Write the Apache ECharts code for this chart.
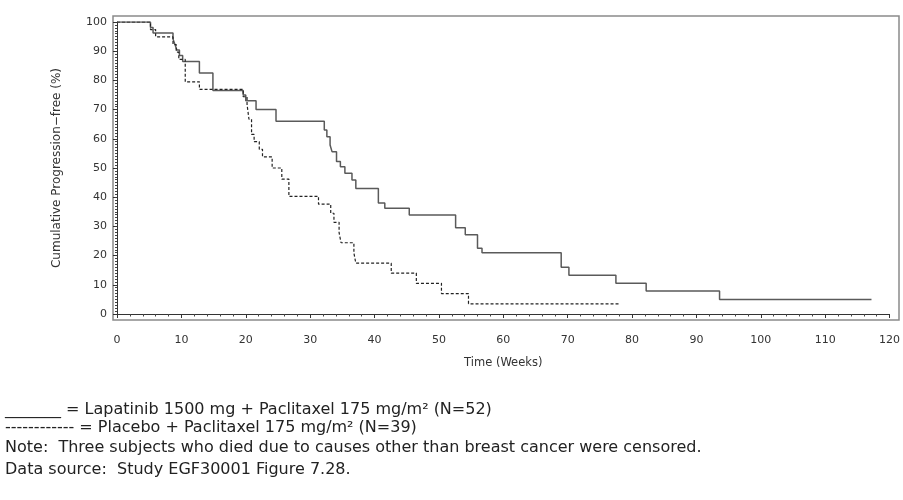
<!DOCTYPE html>
<html><head><meta charset="utf-8">
<script src="https://cdn.jsdelivr.net/npm/echarts@6/dist/echarts.min.js"></script>
<style>html,body{margin:0;padding:0;background:#fff}#c{width:903px;height:500px}</style>
</head><body><div id="c"></div>
<script>
// Kaplan-Meier step data (weeks, % progression-free)
const lapTimes = [0, 5.2, 5.6, 8.7, 9.0, 9.3, 9.7, 10.2, 12.8, 14.9, 19.6, 20.0, 21.6, 24.7, 32.2, 32.6, 33.1, 33.4, 34.1, 34.7, 35.4, 36.5, 37.1, 40.6, 41.6, 45.4, 52.6, 54.1, 56.0, 56.7, 69.0, 70.2, 77.5, 82.2, 93.6, 117.2];
const lapSurv  = [100, 98.1, 96.2, 94.2, 92.3, 90.4, 88.5, 86.5, 82.5, 76.5, 75.0, 73.0, 70.0, 66.0, 63.0, 60.7, 57.9, 55.6, 52.2, 50.4, 48.2, 45.9, 43.0, 38.0, 36.2, 33.9, 29.5, 27.1, 22.5, 21.0, 16.0, 13.3, 10.5, 7.9, 5.0, 5.0];
const plaTimes = [0, 5.2, 6.0, 8.7, 9.2, 9.6, 10.6, 12.8, 19.6, 20.2, 20.5, 20.9, 21.3, 22.1, 22.6, 24.1, 25.6, 26.7, 31.3, 33.2, 33.7, 34.5, 34.8, 36.8, 37.1, 42.6, 46.5, 50.4, 54.6, 78.1];
const plaSurv  = [100, 97.4, 94.9, 92.3, 89.7, 87.2, 79.5, 76.9, 74.4, 71.8, 66.7, 61.5, 59.0, 56.4, 53.8, 50.0, 46.2, 40.3, 37.6, 34.5, 31.4, 27.9, 24.4, 20.9, 17.4, 14.0, 10.5, 7.0, 3.5, 3.5];
const xAxisName = 'Time (Weeks)';
const yAxisName = 'Cumulative Progression\u2212free (%)';
const noteLines = [
  '_______ = Lapatinib 1500 mg + Paclitaxel 175 mg/m\u00B2 (N=52)',
  '------------ = Placebo + Paclitaxel 175 mg/m\u00B2 (N=39)',
  'Note:  Three subjects who died due to causes other than breast cancer were censored.',
  'Data source:  Study EGF30001 Figure 7.28.'
];

const zip = (a, b) => a.map((t, i) => [t, b[i]]);
const tickFont = 'DejaVu Sans';
const chart = echarts.init(document.getElementById('c'), null, {renderer: 'canvas'});
const noteTops = [402, 420, 440, 462];
chart.setOption({
  animation: false,
  backgroundColor: '#fff',
  grid: [
    {left: 117, right: 8.4, top: 22, bottom: 186},
    {left: 113, right: 4, top: 16, bottom: 180, show: true, borderColor: '#8a8a8a', borderWidth: 1.5, backgroundColor: 'transparent', z: 0}
  ],
  xAxis: [
    {gridIndex: 0, type: 'value', min: 0, max: 120, interval: 10, offset: 6,
     axisLine: {show: true, lineStyle: {color: '#333', width: 1}},
     axisTick: {show: true, length: 4, lineStyle: {color: '#333'}},
     minorTick: {show: true, splitNumber: 5, length: 2.5, lineStyle: {color: '#444'}},
     splitLine: {show: false},
     axisLabel: {margin: 15, fontFamily: tickFont, fontSize: 11, color: '#333'},
     name: xAxisName, nameLocation: 'middle', nameGap: 37,
     nameTextStyle: {fontFamily: tickFont, fontSize: 11.5, color: '#333'}},
    {gridIndex: 1, type: 'value', min: 0, max: 1, show: false}
  ],
  yAxis: [
    {gridIndex: 0, type: 'value', min: 0, max: 100, interval: 10, offset: 4,
     axisLine: {show: true, lineStyle: {color: '#333', width: 1}},
     axisTick: {show: true, length: 4, lineStyle: {color: '#333'}},
     minorTick: {show: true, splitNumber: 10, length: 2, lineStyle: {color: '#444'}},
     splitLine: {show: false},
     axisLabel: {margin: 6, fontFamily: tickFont, fontSize: 11, color: '#333'},
     name: yAxisName, nameLocation: 'middle', nameRotate: 90, nameGap: 50,
     nameTextStyle: {fontFamily: tickFont, fontSize: 12, color: '#333'}},
    {gridIndex: 1, type: 'value', min: 0, max: 1, show: false}
  ],
  series: [
    {name: 'Lapatinib', type: 'line', step: 'end', symbol: 'none', xAxisIndex: 0, yAxisIndex: 0,
     data: zip(lapTimes, lapSurv), lineStyle: {color: '#5a5a5a', width: 1.5, type: 'solid'}, z: 3},
    {name: 'Placebo', type: 'line', step: 'end', symbol: 'none', xAxisIndex: 0, yAxisIndex: 0,
     data: zip(plaTimes, plaSurv), lineStyle: {color: '#222', width: 1.2, type: [3, 2]}, z: 4}
  ],
  graphic: noteLines.map((t, i) => ({
    type: 'text', left: 5, top: noteTops[i],
    style: {text: t, fontFamily: 'DejaVu Sans', fontSize: 16, fill: '#222'}
  }))
});
</script></body></html>
